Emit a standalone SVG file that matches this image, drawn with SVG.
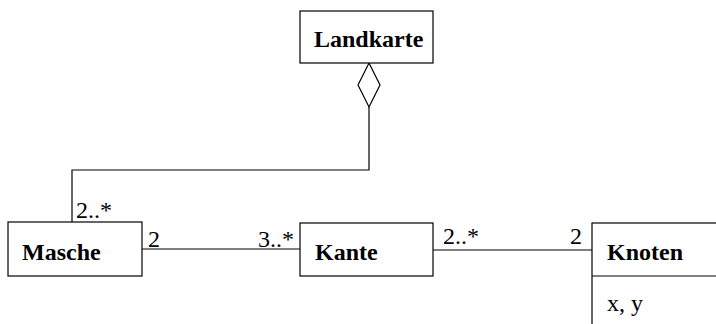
<svg xmlns="http://www.w3.org/2000/svg" width="716" height="324" viewBox="0 0 716 324">
<style>
.box{fill:#fff;stroke:#000;stroke-width:1.2}
.name{font-family:"Liberation Serif",serif;font-weight:bold;font-size:24px;fill:#000}
.lbl{font-family:"Liberation Serif",serif;font-size:24px;fill:#000}
.ln{fill:none;stroke:#000;stroke-width:1.2}
</style>
<rect width="716" height="324" fill="#fff"/>
<g id="connectors">
<polygon class="ln" points="369,63 380,85 369,107 358,85" fill="#fff"/>
<polyline class="ln" points="369,107 369,170 72,170 72,222"/>
<line class="ln" x1="142" y1="249" x2="300" y2="249"/>
<line class="ln" x1="433" y1="250" x2="592" y2="250"/>
<text class="lbl" x="76" y="218">2..*</text>
<text class="lbl" x="148" y="247">2</text>
<text class="lbl" x="258" y="247">3..*</text>
<text class="lbl" x="443" y="244">2..*</text>
<text class="lbl" x="570" y="244">2</text>
</g>
<g id="landkarte">
<rect class="box" x="300" y="11" width="133" height="52"/>
<text class="name" x="314" y="47">Landkarte</text>
</g>
<g id="masche">
<rect class="box" x="8" y="222" width="134" height="54"/>
<text class="name" x="22" y="260">Masche</text>
</g>
<g id="kante">
<rect class="box" x="300" y="223" width="133" height="53"/>
<text class="name" x="315" y="260">Kante</text>
</g>
<g id="knoten">
<rect class="box" x="592" y="223" width="140" height="120"/>
<line class="ln" x1="592" y1="276" x2="716" y2="276"/>
<text class="name" x="607" y="260">Knoten</text>
<text class="lbl" x="607" y="311">x, y</text>
</g>
</svg>
